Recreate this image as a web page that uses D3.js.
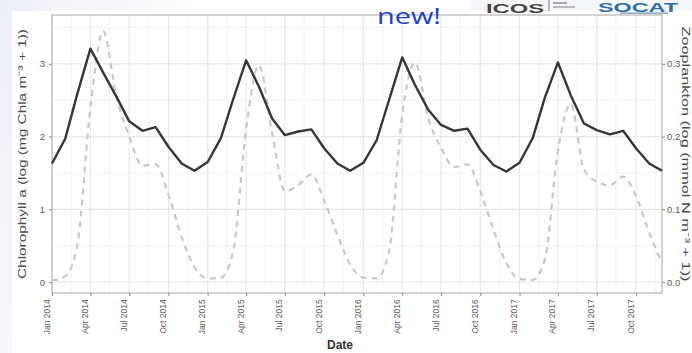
<!DOCTYPE html>
<html><head><meta charset="utf-8">
<script src="https://cdn.jsdelivr.net/npm/d3@7"></script>
<style>
html,body{margin:0;padding:0;background:#fff;}
svg{display:block;font-family:"Liberation Sans",Arial,sans-serif;}
</style></head>
<body><svg id="c" width="692" height="353"></svg>
<script>
// ---- data ----
const months = d3.range(48).map(i => new Date(2014, i, 1));
const chlorophyll = [
  1.63,1.97,2.58,3.21,2.88,2.55,2.21,2.08,2.13,1.86,1.63,1.53,
  1.65,1.98,2.50,3.05,2.69,2.25,2.02,2.07,2.10,1.84,1.63,1.53,
  1.64,1.95,2.50,3.09,2.71,2.37,2.16,2.08,2.11,1.82,1.61,1.52,
  1.64,1.98,2.53,3.02,2.57,2.18,2.09,2.03,2.08,1.84,1.63,1.53
];
const zooplankton = [
  0.002,0.008,0.050,0.240,0.345,0.255,0.200,0.160,0.162,0.120,0.062,0.020,
  0.005,0.006,0.040,0.210,0.298,0.205,0.125,0.133,0.148,0.112,0.065,0.024,
  0.006,0.005,0.042,0.230,0.302,0.225,0.185,0.158,0.162,0.125,0.072,0.026,
  0.004,0.003,0.030,0.180,0.245,0.155,0.138,0.133,0.145,0.118,0.068,0.026
];
const leftTicks = [0,1,2,3];
const rightTicks = [0.0,0.1,0.2,0.3];
const xTicks = d3.range(16).map(i => new Date(2014, i*3, 1));
const leftTitle = "Chlorophyll a (log (mg Chla m⁻³ + 1))";
const rightTitle = "Zooplankton (log (mmol N m⁻³ + 1))";
const xTitle = "Date";

// ---- layout ----
const svg = d3.select("#c");
const P = {l:52, r:662, t:15, b:293};

// slide background tints
const defs = svg.append("defs");
const g1 = defs.append("linearGradient").attr("id","tb").attr("x1","0").attr("x2","1");
g1.append("stop").attr("offset","0").attr("stop-color","#eeeef6");
g1.append("stop").attr("offset","1").attr("stop-color","#ffffff");
const g2 = defs.append("linearGradient").attr("id","lb").attr("x1","0").attr("x2","0").attr("y1","0").attr("y2","1");
g2.append("stop").attr("offset","0").attr("stop-color","#eeeef6");
g2.append("stop").attr("offset","1").attr("stop-color","#f8f8fb");
svg.append("rect").attr("x",0).attr("y",0).attr("width",200).attr("height",11).attr("fill","url(#tb)");
svg.append("rect").attr("x",0).attr("y",0).attr("width",12).attr("height",353).attr("fill","url(#lb)");
svg.append("rect").attr("x",470).attr("y",0).attr("width",222).attr("height",11).attr("fill","#f6f7fa");

const x = d3.scaleTime().domain([months[0], months[47]]).range([P.l, P.r]);
const yL = d3.scaleLinear().domain([(282-P.b)/72.7, (282-P.t)/72.7]).range([P.b, P.t]);
const yR = d3.scaleLinear().domain(yL.domain().map(v => v/10)).range([P.b, P.t]);

// grid
const grid = svg.append("g");
const minorX = xTicks.map(d => d3.timeDay.offset(d, 45)).filter(d => x(d) < P.r);
grid.selectAll(".mx").data(minorX).join("line")
  .attr("x1", d=>x(d)).attr("x2", d=>x(d)).attr("y1",P.t).attr("y2",P.b)
  .attr("stroke","#f3f3f3").attr("stroke-width",1);
grid.selectAll(".my").data([0.5,1.5,2.5,3.5]).join("line")
  .attr("x1",P.l).attr("x2",P.r).attr("y1",d=>yL(d)).attr("y2",d=>yL(d))
  .attr("stroke","#f3f3f3").attr("stroke-width",1);
grid.selectAll(".Mx").data(xTicks).join("line")
  .attr("x1", d=>x(d)).attr("x2", d=>x(d)).attr("y1",P.t).attr("y2",P.b)
  .attr("stroke","#e8e8e8").attr("stroke-width",1.2);
grid.selectAll(".My").data(leftTicks).join("line")
  .attr("x1",P.l).attr("x2",P.r).attr("y1",d=>yL(d)).attr("y2",d=>yL(d))
  .attr("stroke","#e8e8e8").attr("stroke-width",1.2);

// panel border
svg.append("rect").attr("x",P.l).attr("y",P.t).attr("width",P.r-P.l).attr("height",P.b-P.t)
  .attr("fill","none").attr("stroke","#c4c4c4").attr("stroke-width",1.5);

// lines
const zLine = d3.line().x((d,i)=>x(months[i])).y(d=>yR(d)).curve(d3.curveMonotoneX);
svg.append("path").datum(zooplankton).attr("d",zLine)
  .attr("fill","none").attr("stroke","#c9c9c9").attr("stroke-width",2.2)
  .attr("stroke-dasharray","6,5");
const cLine = d3.line().x((d,i)=>x(months[i])).y(d=>yL(d));
svg.append("path").datum(chlorophyll).attr("d",cLine)
  .attr("fill","none").attr("stroke","#363636").attr("stroke-width",2.4)
  .attr("stroke-linejoin","round");

// axes
const axL = svg.append("g").attr("transform",`translate(${P.l},0)`)
  .call(d3.axisLeft(yL).tickValues(leftTicks).tickFormat(d3.format("d")).tickSize(3).tickPadding(4));
const axR = svg.append("g").attr("transform",`translate(${P.r},0)`)
  .call(d3.axisRight(yR).tickValues(rightTicks).tickFormat(d3.format(".1f")).tickSize(3).tickPadding(2));
const axB = svg.append("g").attr("transform",`translate(0,${P.b})`)
  .call(d3.axisBottom(x).tickValues(xTicks).tickFormat(d3.timeFormat("%b %Y")).tickSize(3));
[axL,axR,axB].forEach(a=>{
  a.select(".domain").remove();
  a.selectAll(".tick line").attr("stroke","#999").attr("stroke-width",1.2);
  a.selectAll("text").attr("fill","#5a5a5a").attr("font-size",9.5);
});
axB.selectAll("text").attr("font-size",8.5)
  .attr("transform","rotate(-90)").attr("text-anchor","end")
  .attr("dx","-0.5em").attr("dy","-0.35em").attr("y",0).attr("x",-2);

// titles
svg.append("text").attr("transform","translate(26,154) rotate(-90)")
  .attr("text-anchor","middle").attr("font-size",11.5).attr("fill","#4a4a4a")
  .attr("textLength",250).attr("lengthAdjust","spacingAndGlyphs").text(leftTitle);
svg.append("text").attr("transform","translate(682,154) rotate(90)")
  .attr("text-anchor","middle").attr("font-size",11).attr("fill","#4a4a4a")
  .attr("textLength",255).attr("lengthAdjust","spacingAndGlyphs").text(rightTitle);
svg.append("text").attr("x",340).attr("y",349).attr("text-anchor","middle")
  .attr("font-size",12).attr("font-weight","bold").attr("fill","#333").text(xTitle);

// slide overlays
svg.append("text").attr("x",377).attr("y",24).attr("font-family","'Open Sans',sans-serif")
  .attr("font-size",22).attr("fill","#1e40c0")
  .attr("textLength",64).attr("lengthAdjust","spacingAndGlyphs").text("new!");
svg.append("text").attr("x",486).attr("y",13).attr("font-size",13).attr("font-weight","bold")
  .attr("fill","#444").attr("textLength",58).attr("lengthAdjust","spacingAndGlyphs").text("ICOS");
svg.append("line").attr("x1",549).attr("x2",549).attr("y1",0).attr("y2",11).attr("stroke","#777").attr("stroke-width",1);
svg.append("rect").attr("x",553).attr("y",2).attr("width",14).attr("height",2).attr("fill","#aaa");
svg.append("rect").attr("x",553).attr("y",6).attr("width",22).attr("height",2).attr("fill","#bbb");
svg.append("text").attr("x",598).attr("y",12).attr("font-size",12).attr("font-weight","bold")
  .attr("fill","#2f6fa8").attr("textLength",80).attr("lengthAdjust","spacingAndGlyphs").text("SOCAT");
svg.append("rect").attr("x",620).attr("y",12.5).attr("width",48).attr("height",1.2).attr("fill","#6a8fb3");
</script></body></html>
